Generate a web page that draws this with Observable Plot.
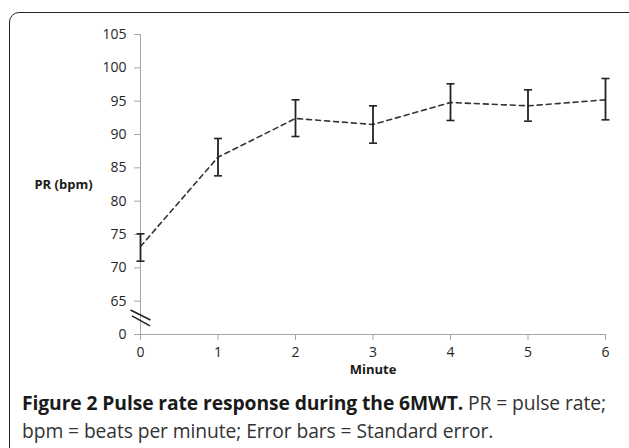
<!DOCTYPE html>
<html>
<head>
<meta charset="utf-8">
<script src="https://cdn.jsdelivr.net/npm/d3@7"></script>
<script src="https://cdn.jsdelivr.net/npm/@observablehq/plot@0.6"></script>
<style>
  html, body { margin: 0; padding: 0; background: #fff; width: 629px; height: 448px; overflow: hidden; }
  #wrap { position: relative; width: 629px; height: 448px; }
  #box { position: absolute; left: 9px; top: 12px; width: 640px; height: 445px; border: 1.6px solid #262626; border-radius: 10px; box-sizing: border-box; }
  #chart { position: absolute; left: 0; top: 0; }
  #caption { position: absolute; left: 22px; top: 389px; font-family: "Open Sans", sans-serif; font-size: 19.3px; line-height: 28px; color: #1a1a1a; white-space: nowrap; letter-spacing: -0.1px; }
  #caption b { font-weight: 700; }
  #caption span { color: #333; }
</style>
</head>
<body>
<div id="wrap">
  <div id="box"></div>
  <div id="chart"></div>
  <div id="caption"><b>Figure 2 Pulse rate response during the 6MWT.</b> <span>PR = pulse rate;</span><br><span>bpm = beats per minute; Error bars = Standard error.</span></div>
</div>
<script>
// Data
const minutes = [0, 1, 2, 3, 4, 5, 6];
const meanPR  = [73.2, 86.6, 92.4, 91.5, 94.8, 94.3, 95.2];
const lowerPR = [71.0, 83.8, 89.7, 88.7, 92.1, 92.0, 92.2];
const upperPR = [75.1, 89.4, 95.2, 94.3, 97.6, 96.7, 98.4];
const yTicks = [60, 65, 70, 75, 80, 85, 90, 95, 100, 105];
const yTickLabels = ["0", "65", "70", "75", "80", "85", "90", "95", "100", "105"];
const xTicks = [0, 1, 2, 3, 4, 5, 6];
const yLabel = "PR (bpm)";
const xLabel = "Minute";
const breakValue = 62.5; // axis break between 0 and 65

const data = minutes.map((m, i) => ({minute: m, mean: meanPR[i], lo: lowerPR[i], hi: upperPR[i]}));

// custom symbols
const capSymbol = {
  draw(ctx, size) {
    const r = Math.sqrt(size / Math.PI);
    ctx.moveTo(-r, 0); ctx.lineTo(r, 0);
  }
};
const breakSymbol = {
  draw(ctx, size) {
    const r = Math.sqrt(size / Math.PI);
    ctx.moveTo(-r, -r * 0.78); ctx.lineTo(r, r * 0.22);
    ctx.moveTo(-r * 0.85, -r * 0.2); ctx.lineTo(r * 0.95, r * 0.8);
  }
};

const font = "'Open Sans', sans-serif";
const chart = Plot.plot({
  width: 629,
  height: 390,
  marginLeft: 140,
  marginRight: 24,
  marginTop: 34,
  marginBottom: 56,
  style: {fontFamily: font, fontSize: "14px", color: "#333", background: "transparent"},
  x: {domain: [0, 6]},
  y: {domain: [60, 105]},
  marks: [
    Plot.ruleX([0], {y1: 60, y2: 105, stroke: "#a6a6a6", strokeWidth: 1}),
    Plot.ruleY([60], {x1: 0, x2: 6, stroke: "#a6a6a6", strokeWidth: 1}),
    Plot.axisY({ticks: yTicks, tickFormat: (d) => yTickLabels[yTicks.indexOf(d)], tickSize: 6, tickPadding: 8,
      stroke: "#a6a6a6", fill: "#262626", fontSize: 14, label: null}),
    Plot.axisX({ticks: xTicks, tickFormat: (d) => String(d), tickSize: 6, tickPadding: 7, stroke: "#a6a6a6", fill: "#262626", fontSize: 14, label: null}),
    Plot.dot([breakValue], {x: () => 0, y: (d) => d, symbol: breakSymbol, r: 10, stroke: "#222", strokeWidth: 1.5, fill: "none"}),
    Plot.line(data, {x: "minute", y: "mean", stroke: "#333", strokeWidth: 1.6, strokeDasharray: "5,4"}),
    Plot.ruleX(data, {x: "minute", y1: "lo", y2: "hi", stroke: "#222", strokeWidth: 1.8}),
    Plot.dot(data, {x: "minute", y: "lo", symbol: capSymbol, r: 4, stroke: "#222", strokeWidth: 1.6}),
    Plot.dot(data, {x: "minute", y: "hi", symbol: capSymbol, r: 4, stroke: "#222", strokeWidth: 1.6}),
    Plot.text([yLabel], {frameAnchor: "left", text: (d) => d, textAnchor: "middle", dx: -77, fontWeight: "bold", fontSize: 13, fill: "#1a1a1a"}),
    Plot.text([xLabel], {frameAnchor: "bottom", text: (d) => d, textAnchor: "middle", dy: 39, fontWeight: "bold", fontSize: 13, fill: "#1a1a1a"})
  ]
});
document.getElementById("chart").appendChild(chart);
</script>
</body>
</html>
